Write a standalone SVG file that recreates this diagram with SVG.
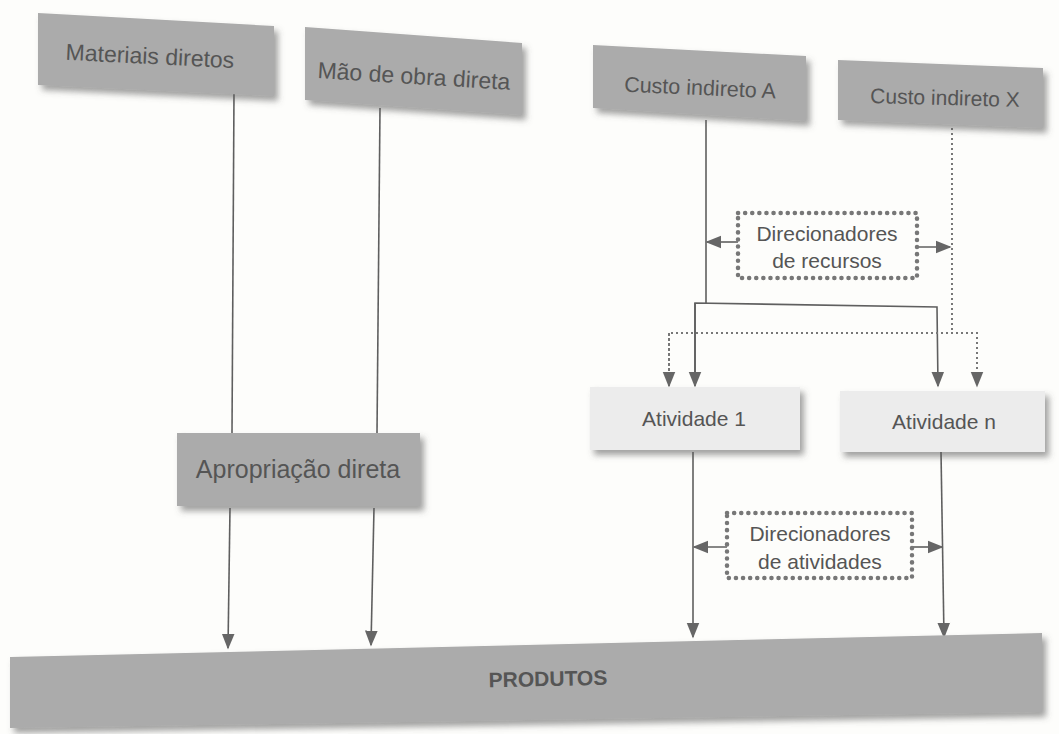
<svg xmlns="http://www.w3.org/2000/svg" width="1059" height="734" viewBox="0 0 1059 734">
<defs>
<filter id="sh" x="-10%" y="-20%" width="130%" height="160%">
<feDropShadow dx="4" dy="5" stdDeviation="3" flood-color="#555" flood-opacity="0.55"/>
</filter>
<marker id="arb" viewBox="0 0 10 10" refX="9" refY="5" markerWidth="16" markerHeight="16" markerUnits="userSpaceOnUse" orient="auto">
<path d="M0,1 L10,5 L0,9 Z" fill="#666"/>
</marker>
<style>
.box{fill:#ababab;filter:url(#sh)}
.lbox{fill:#ececec;filter:url(#sh)}
.t{font-family:"Liberation Sans",Arial,sans-serif;fill:#555;text-anchor:middle}
.ln{stroke:#5f5f5f;stroke-width:1.6;fill:none}
.dt{stroke:#777;stroke-width:2;fill:none;stroke-dasharray:2 3}
.db{stroke:#777;stroke-width:4.5;fill:none;stroke-dasharray:0.1 7;stroke-linecap:round}
</style>
</defs>
<rect width="1059" height="734" fill="#fdfdfb"/>

<g id="connectors">
<line class="ln" x1="234" y1="92" x2="232" y2="433"/>
<line class="ln" x1="230" y1="508" x2="228" y2="648" marker-end="url(#arb)"/>
<line class="ln" x1="380" y1="108" x2="377" y2="433"/>
<line class="ln" x1="374" y1="508" x2="371" y2="645" marker-end="url(#arb)"/>
<polyline class="ln" points="706,120 706,303"/>
<polyline class="ln" points="695,385 695,303 937,307 938,386" marker-end="url(#arb)"/>
<line class="ln" x1="695" y1="303" x2="695" y2="386" marker-end="url(#arb)"/>
<polyline class="dt" points="952,128 952,333"/>
<polyline class="dt" points="669,386 669,333 977,333 977,386" marker-end="url(#arb)"/>
<line class="dt" x1="669" y1="333" x2="669" y2="386" marker-end="url(#arb)"/>
<line class="ln" x1="738" y1="242" x2="707" y2="242" marker-end="url(#arb)"/>
<line class="ln" x1="917" y1="247" x2="950" y2="247" marker-end="url(#arb)"/>
<line class="ln" x1="693" y1="452" x2="693" y2="637" marker-end="url(#arb)"/>
<line class="ln" x1="941" y1="452" x2="944" y2="637" marker-end="url(#arb)"/>
<line class="ln" x1="727" y1="547" x2="694" y2="547" marker-end="url(#arb)"/>
<line class="ln" x1="912" y1="547" x2="942" y2="547" marker-end="url(#arb)"/>
</g>

<g id="materiais">
<polygon class="box" points="38,13 274,26 274,96 38,85"/>
<text class="t" x="150" y="64" font-size="23" transform="rotate(2.8 150 56)">Materiais diretos</text>
</g>
<g id="mao-de-obra">
<polygon class="box" points="305,27 522,43 522,115 305,100"/>
<text class="t" x="414" y="84" font-size="23" transform="rotate(3.5 414 76)">Mão de obra direta</text>
</g>
<g id="custo-a">
<polygon class="box" points="593,45 806,56 806,121 593,108"/>
<text class="t" x="700" y="95" font-size="21.5" transform="rotate(2.5 700 88)">Custo indireto A</text>
</g>
<g id="custo-x">
<polygon class="box" points="838,60 1043,68 1043,128 838,120"/>
<text class="t" x="945" y="105" font-size="21" transform="rotate(1.5 945 98)">Custo indireto X</text>
</g>

<g id="dir-recursos">
<rect class="db" x="738" y="213" width="179" height="65" fill="#fdfdfb"/>
<text class="t" x="827" y="241" font-size="21">Direcionadores</text>
<text class="t" x="827" y="268" font-size="21">de recursos</text>
</g>

<g id="atividade-1">
<rect class="lbox" x="590" y="387" width="210" height="63"/>
<text class="t" x="694" y="426" font-size="21">Atividade 1</text>
</g>
<g id="atividade-n">
<rect class="lbox" x="840" y="391" width="205" height="61"/>
<text class="t" x="944" y="429" font-size="21">Atividade n</text>
</g>

<g id="apropriacao">
<rect class="box" x="177" y="433" width="243" height="73"/>
<text class="t" x="298" y="478" font-size="25">Apropriação direta</text>
</g>

<g id="dir-atividades">
<rect class="db" x="727" y="513" width="185" height="65" fill="#fdfdfb"/>
<text class="t" x="820" y="541" font-size="21">Direcionadores</text>
<text class="t" x="820" y="569" font-size="21">de atividades</text>
</g>

<g id="produtos">
<polygon class="box" points="10,657 1042,633 1042,712 10,728" fill="#a5a5a5"/>
<text class="t" x="548" y="686" font-size="21" font-weight="bold" transform="rotate(-1.2 548 678)">PRODUTOS</text>
</g>
</svg>
